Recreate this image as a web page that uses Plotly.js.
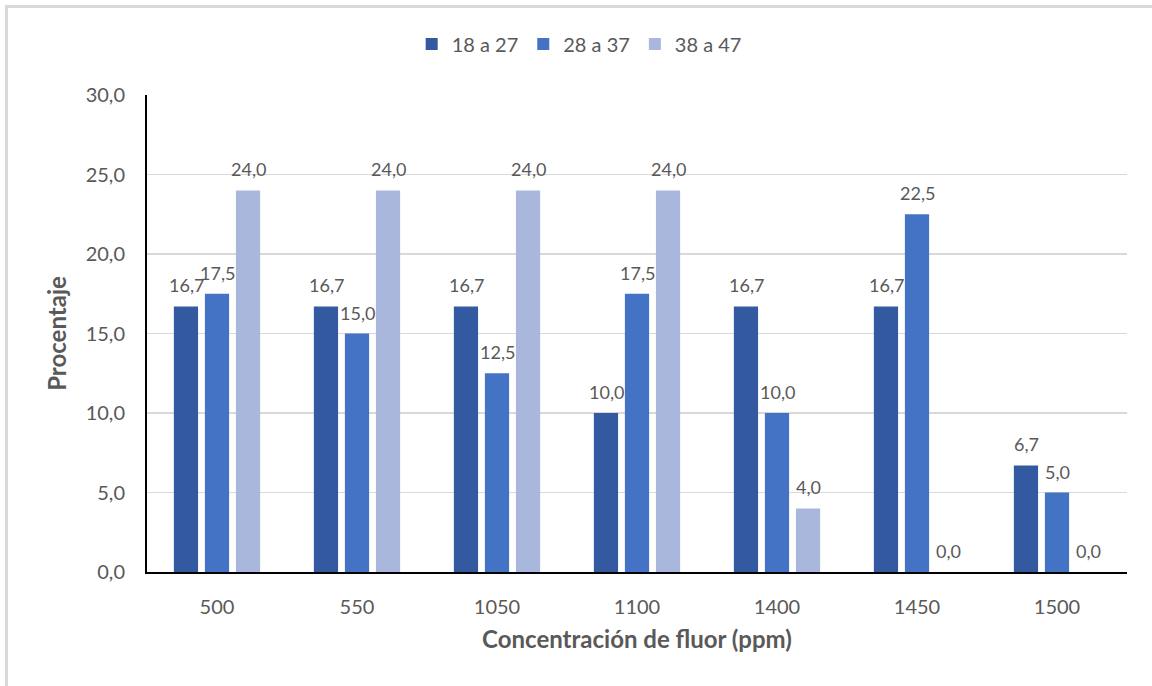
<!DOCTYPE html>
<html><head><meta charset="utf-8">
<script src="https://cdn.plot.ly/plotly-3.0.1.min.js"></script>
<style>
html,body{margin:0;padding:0;background:#fff;}
#wrap{position:relative;width:1152px;height:686px;overflow:hidden;}
#chart{width:1152px;height:686px;}
#frame{position:absolute;left:5px;top:5px;width:1200px;height:800px;border-left:3px solid #D9D9D9;border-top:3px solid #D9D9D9;pointer-events:none;}
</style></head>
<body><div id="wrap"><div id="chart"></div><div id="frame"></div></div>
<script>
const categories = ["500", "550", "1050", "1100", "1400", "1450", "1500"];
const seriesNames = ["18 a 27", "28 a 37", "38 a 47"];
const s1 = [16.7, 16.7, 16.7, 10.0, 16.7, 16.7, 6.7];
const s2 = [17.5, 15.0, 12.5, 17.5, 10.0, 22.5, 5.0];
const s3 = [24.0, 24.0, 24.0, 24.0, 4.0, 0.0, 0.0];
const colors = ["#335AA1", "#4472C4", "#A9B7DC"];
const yTicks = [0, 5, 10, 15, 20, 25, 30];

const font = "Lato, 'Open Sans', sans-serif";
const txtColor = "#595959";
const fmt = v => v.toFixed(1).replace(".", ",");
const allSeries = [s1, s2, s3];
const traces = allSeries.map((vals, i) => ({
  type: "bar",
  name: seriesNames[i],
  x: categories,
  y: vals,
  marker: {color: colors[i]},
  hoverinfo: "x+y"
}));

// data labels as annotations (category index + offset within group = bar pitch)
const barPitch = 31;
const annotations = [];
allSeries.forEach((vals, i) => {
  vals.forEach((v, j) => {
    annotations.push({
      xref: "x", yref: "y", x: j, y: v,
      xshift: (i - 1) * barPitch, yshift: 8,
      yanchor: "bottom", xanchor: "center",
      text: fmt(v), showarrow: false,
      font: {family: font, size: 18, color: txtColor}
    });
  });
});

const layout = {
  width: 1152, height: 686,
  margin: {l: 147, r: 25, t: 95, b: 114},
  paper_bgcolor: "#fff", plot_bgcolor: "#fff",
  separators: ",.",
  barmode: "group",
  bargap: 0.335,
  bargroupgap: 0.22,
  showlegend: true,
  legend: {orientation: "h", x: 0.441, xanchor: "center", y: 1.107, yanchor: "middle",
           font: {family: font, size: 20, color: txtColor}, itemwidth: 30, traceorder: "normal"},
  annotations: annotations,
  xaxis: {
    type: "category",
    categoryorder: "array", categoryarray: categories,
    range: [-0.5, categories.length - 0.5],
    showline: true, linecolor: "#000", linewidth: 2,
    ticks: "", ticklabelstandoff: 16,
    tickfont: {family: font, size: 20, color: txtColor},
    title: {text: "<b>Concentración de fluor (ppm)</b>", font: {family: font, size: 24, color: txtColor}, standoff: 14},
    showgrid: false, zeroline: false
  },
  yaxis: {
    range: [0, 30],
    tickvals: yTicks,
    ticktext: yTicks.map(fmt),
    showline: true, linecolor: "#000", linewidth: 2,
    ticks: "", ticklabelstandoff: 16,
    tickfont: {family: font, size: 20, color: txtColor},
    gridcolor: "#D9D9D9", gridwidth: 1.5,
    zeroline: false,
    title: {text: "<b>Procentaje</b>", font: {family: font, size: 24, color: txtColor}, standoff: 12}
  },
  font: {family: font, color: txtColor}
};

Plotly.newPlot("chart", traces, layout, {displayModeBar: false, staticPlot: true});
</script></body></html>
